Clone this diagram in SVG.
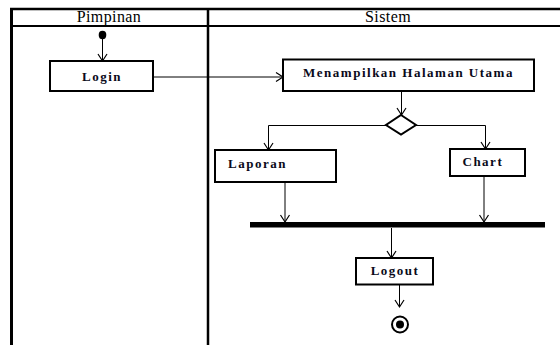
<svg xmlns="http://www.w3.org/2000/svg" width="560" height="345" viewBox="0 0 560 345">
  <style>
    .lane { stroke: #000; fill: none; }
    .hdr { font-family: "Liberation Serif", "Times New Roman", serif; font-size: 16px; letter-spacing: 0.4px; fill: #000; text-anchor: middle; }
    .box { fill: #fff; stroke: #000; stroke-width: 2; }
    .lbl { font-family: "Liberation Serif", "Times New Roman", serif; font-size: 13px; font-weight: bold; letter-spacing: 1.5px; fill: #0a0a1a; }
    .flow { stroke: #000; stroke-width: 1; fill: none; marker-end: url(#arrow); }
  </style>
  <defs>
    <marker id="arrow" markerWidth="12" markerHeight="12" refX="8" refY="5" orient="auto" markerUnits="userSpaceOnUse">
      <path d="M1,0.5 L8,5 L1,9.5" fill="none" stroke="#000" stroke-width="1.2"/>
    </marker>
  </defs>
  <rect width="560" height="345" fill="#fff"/>

  <!-- swimlanes -->
  <g id="lanes">
    <line class="lane" x1="10" y1="9" x2="562" y2="9" stroke-width="2.5"/>
    <line class="lane" x1="11" y1="26" x2="562" y2="26" stroke-width="2"/>
    <line class="lane" x1="11.5" y1="8" x2="11.5" y2="345" stroke-width="3"/>
    <line class="lane" x1="208" y1="8" x2="208" y2="345" stroke-width="2.5"/>
    <text class="hdr" x="109" y="22">Pimpinan</text>
    <text class="hdr" x="388" y="22">Sistem</text>
  </g>

  <!-- connectors -->
  <g id="connectors">
    <line class="flow" x1="102.5" y1="38" x2="102.5" y2="61"/>
    <line class="flow" x1="153" y1="77" x2="283" y2="77"/>
    <line class="flow" x1="401.5" y1="91" x2="401.5" y2="115"/>
    <polyline class="flow" points="386,125.5 268.5,125.5 268.5,150"/>
    <polyline class="flow" points="416,125.5 485.5,125.5 485.5,149"/>
    <line class="flow" x1="285" y1="182" x2="285" y2="222"/>
    <line class="flow" x1="484" y1="176" x2="484" y2="222"/>
    <line class="flow" x1="391.5" y1="228" x2="391.5" y2="258"/>
    <line class="flow" x1="399.5" y1="284" x2="399.5" y2="307"/>
  </g>

  <!-- nodes -->
  <g id="start">
    <ellipse cx="102.5" cy="35" rx="3.8" ry="4.2" fill="#000"/>
  </g>
  <g id="login">
    <rect class="box" x="50" y="61" width="103" height="30"/>
    <text class="lbl" x="102" y="81" text-anchor="middle">Login</text>
  </g>
  <g id="halaman-utama">
    <rect class="box" x="283" y="59.5" width="251" height="31.5"/>
    <text class="lbl" x="408.5" y="77" text-anchor="middle">Menampilkan Halaman Utama</text>
  </g>
  <g id="decision">
    <polygon points="401,115 416,125 401,134.5 386,125" fill="#fff" stroke="#000" stroke-width="2"/>
  </g>
  <g id="laporan">
    <rect class="box" x="215" y="150" width="121" height="32"/>
    <text class="lbl" x="228" y="168">Laporan</text>
  </g>
  <g id="chart">
    <rect class="box" x="450" y="149" width="75" height="27"/>
    <text class="lbl" x="462.5" y="166">Chart</text>
  </g>
  <g id="join">
    <rect x="250" y="222" width="295" height="5.5" fill="#000"/>
  </g>
  <g id="logout">
    <rect class="box" x="356" y="258" width="77" height="26.5"/>
    <text class="lbl" x="395" y="275" text-anchor="middle">Logout</text>
  </g>
  <g id="end">
    <circle cx="400" cy="324.5" r="8" fill="#fff" stroke="#000" stroke-width="2"/>
    <circle cx="400" cy="324.5" r="4" fill="#000"/>
  </g>
</svg>
